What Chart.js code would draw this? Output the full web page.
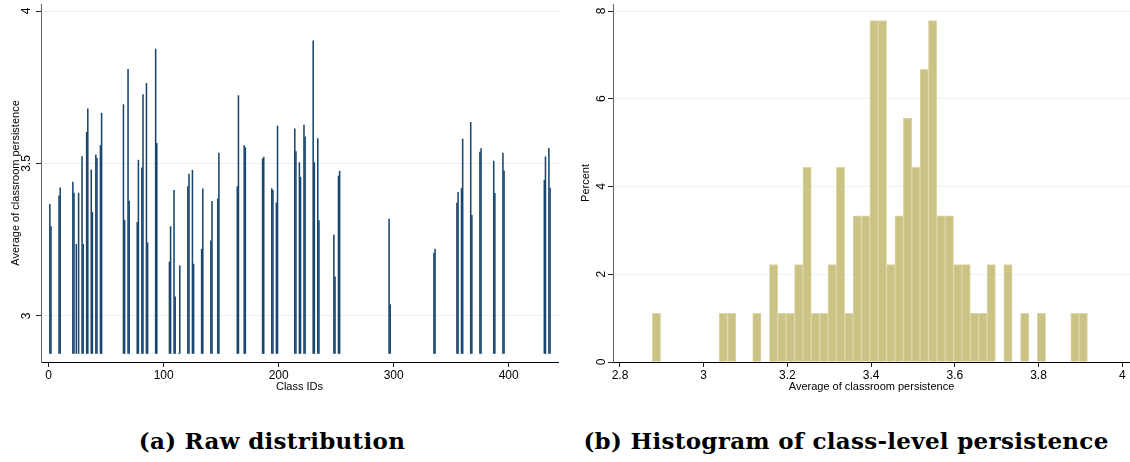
<!DOCTYPE html>
<html>
<head>
<meta charset="utf-8">
<script src="https://cdn.jsdelivr.net/npm/chart.js"></script>
<style>
  body { margin: 0; background: #fff; width: 1130px; height: 462px; position: relative; overflow: hidden; }
  canvas { position: absolute; top: 0; }
  .cap { position: absolute; top: 429px; font: bold 23px "DejaVu Serif", serif; line-height: 23px; letter-spacing: 0.3px; color: #000; white-space: nowrap; transform: translateX(-50%); }
</style>
</head>
<body>
<canvas id="raw" width="565" height="400" style="left:0"></canvas>
<canvas id="hist" width="565" height="400" style="left:565px"></canvas>
<div class="cap" style="left:272px">(a) Raw distribution</div>
<div class="cap" style="left:846px">(b) Histogram of class-level persistence</div>
<script>
// panel a: class averages by class ID
const classIds = [1, 2, 9, 10, 21, 22, 24, 26, 29, 30, 33, 34, 37, 38, 41, 42, 45, 46,
  65, 66, 69, 70, 77, 78, 81, 82, 85, 86, 93, 94, 105, 106, 109, 110, 113, 114,
  121, 122, 125, 126, 133, 134, 141, 142, 147, 148, 164, 165, 170, 171, 186, 187,
  194, 195, 198, 199, 214, 215, 218, 219, 222, 223, 230, 231, 234, 235, 248, 249,
  252, 253, 296, 297, 335, 336, 355, 356, 359, 360, 367, 368, 375, 376, 387, 388,
  395, 396, 431, 432, 435, 436];
const classAvg = [3.366, 3.293, 3.394, 3.420, 3.439, 3.403, 3.235, 3.403, 3.523, 3.235,
  3.602, 3.679, 3.479, 3.340, 3.528, 3.517, 3.559, 3.665,
  3.693, 3.314, 3.809, 3.377, 3.307, 3.511, 3.486, 3.726, 3.763, 3.240, 3.875, 3.566,
  3.177, 3.293, 3.412, 3.063, 2.877, 3.164,
  3.424, 3.465, 3.478, 3.170, 3.219, 3.417, 3.246, 3.376, 3.384, 3.534, 3.424, 3.723,
  3.559, 3.552, 3.515, 3.521,
  3.418, 3.412, 3.371, 3.623, 3.614, 3.539, 3.503, 3.455, 3.626, 3.587, 3.902, 3.503,
  3.582, 3.313, 3.265, 3.128,
  3.459, 3.475, 3.318, 3.037, 3.206, 3.219, 3.370, 3.405, 3.418, 3.580, 3.635, 3.330,
  3.537, 3.549, 3.508, 3.402,
  3.534, 3.476, 3.445, 3.522, 3.550, 3.419];
const spikeBase = 2.877;
const rawXTicks = [0, 100, 200, 300, 400];
const rawYTicks = [3, 3.5, 4];

// panel b: histogram, bin centres (width 0.02) and percent
const binCenters = [2.887, 3.047, 3.067, 3.127, 3.167, 3.187, 3.207, 3.227, 3.247, 3.267,
  3.287, 3.307, 3.327, 3.347, 3.367, 3.387, 3.407, 3.427, 3.447, 3.467, 3.487, 3.507,
  3.527, 3.547, 3.567, 3.587, 3.607, 3.627, 3.647, 3.667, 3.687, 3.727, 3.767, 3.807,
  3.887, 3.907];
const binPercent = [1.11, 1.11, 1.11, 1.11, 2.22, 1.11, 1.11, 2.22, 4.44, 1.11,
  1.11, 2.22, 4.44, 1.11, 3.33, 3.33, 7.78, 7.78, 2.22, 3.33, 5.56, 4.44,
  6.67, 7.78, 3.33, 3.33, 2.22, 2.22, 1.11, 1.11, 2.22, 2.22, 1.11, 1.11,
  1.11, 1.11];
const histXTicks = [2.8, 3, 3.2, 3.4, 3.6, 3.8, 4];
const histYTicks = [0, 2, 4, 6, 8];

Chart.defaults.font.family = '"Liberation Sans", Arial, sans-serif';
Chart.defaults.font.size = 12;
Chart.defaults.color = '#000';
Chart.defaults.animation = false;

// stata style: y tick labels turned on their side
const sideTicks = {
  id: 'sideTicks',
  afterDraw(chart, args, opts) {
    const ys = chart.scales.y;
    const ctx = chart.ctx;
    ctx.save();
    ctx.font = '12px "Liberation Sans", Arial, sans-serif';
    ctx.fillStyle = '#000';
    ctx.textAlign = 'center';
    ctx.textBaseline = 'alphabetic';
    ys.ticks.forEach(t => {
      ctx.save();
      ctx.translate(opts.x, ys.getPixelForValue(t.value));
      ctx.rotate(-Math.PI / 2);
      ctx.fillText(String(t.value), 0, 0);
      ctx.restore();
    });
    ctx.restore();
  }
};

function xScale(min, max, ticks, title) {
  return {
    type: 'linear', min: min, max: max, offset: false,
    afterBuildTicks: s => { s.ticks = ticks.map(v => ({value: v})); },
    afterFit: s => { s.height = 38; },
    grid: { display: true, drawOnChartArea: false, offset: false, tickLength: 5, tickColor: '#222' },
    border: { display: true, color: '#000', width: 1 },
    ticks: { padding: 1, callback: v => String(v) },
    title: { display: true, text: title, font: { size: 11 }, padding: { top: 0, bottom: 6 } }
  };
}

function yScale(min, max, ticks, title, width, titlePad) {
  return {
    type: 'linear', min: min, max: max,
    afterBuildTicks: s => { s.ticks = ticks.map(v => ({value: v})); },
    afterFit: s => { s.width = width; },
    grid: { color: '#eaf2f3', lineWidth: 1, tickLength: 5, tickColor: '#222' },
    border: { display: true, color: '#666', width: 1 },
    ticks: { display: false },
    title: { display: true, text: title, font: { size: 11 }, padding: { top: titlePad, bottom: 0 } }
  };
}

const rawPoints = classIds.map((id, i) => ({ x: id, y: [spikeBase, classAvg[i]] }));

new Chart(document.getElementById('raw'), {
  type: 'bar',
  data: { datasets: [{
    data: rawPoints,
    backgroundColor: '#1a476f',
    barThickness: 0.9,
    borderWidth: 0
  }] },
  options: {
    responsive: false,
    layout: { padding: { top: 4, right: 7, left: 0, bottom: 0 } },
    plugins: { legend: { display: false }, tooltip: { enabled: false }, sideTicks: { x: 30 } },
    scales: {
      x: xScale(-6.7, 442.9, rawXTicks, 'Class IDs'),
      y: yScale(2.849, 4.023, rawYTicks, 'Average of classroom persistence', 41, 9)
    }
  },
  plugins: [sideTicks]
});

const histPoints = binCenters.map((c, i) => ({ x: c, y: binPercent[i] }));

new Chart(document.getElementById('hist'), {
  type: 'bar',
  data: { datasets: [{
    data: histPoints,
    backgroundColor: '#cbc385',
    borderColor: '#ddd7a8',
    borderWidth: 1,
    barPercentage: 1,
    categoryPercentage: 1
  }] },
  options: {
    responsive: false,
    layout: { padding: { top: 4, right: 0, left: 0, bottom: 0 } },
    plugins: { legend: { display: false }, tooltip: { enabled: false }, sideTicks: { x: 40 } },
    scales: {
      x: xScale(2.7833, 4.0186, histXTicks, 'Average of classroom persistence'),
      y: yScale(0, 8.16, histYTicks, 'Percent', 48, 14.4)
    }
  },
  plugins: [sideTicks]
});
</script>
</body>
</html>
